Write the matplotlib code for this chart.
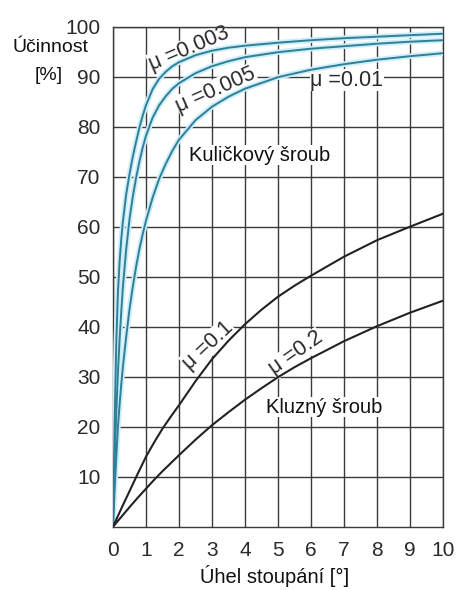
import numpy as np
import matplotlib
matplotlib.use('Agg')
import matplotlib.pyplot as plt

''' matplotlib config
'''
plt.rcParams['font.family'] = ['Liberation Sans', 'DejaVu Sans']

# data (efficiency [%] vs lead angle [deg])
x_ball = [0, 0.05, 0.1, 0.15, 0.2, 0.25, 0.3, 0.4, 0.5, 0.6, 0.7, 0.8, 0.9, 1,
          1.2, 1.4, 1.6, 1.8, 2, 2.5, 3, 3.5, 4, 5, 6, 7, 8, 9, 10]
eta_003 = [0, 21, 37, 47, 53, 57.5, 61, 66.5, 70.5, 74, 77, 79.8, 82.2, 84.3,
           87.5, 89.6, 91, 92.1, 92.9, 94.3, 95.2, 95.8, 96.2, 96.8, 97.3, 97.7, 98.0, 98.3, 98.6]
eta_005 = [0, 13, 23, 31, 37.5, 43, 48, 55.5, 61.5, 66, 69.8, 73, 75.8, 78.2,
           81.8, 84.3, 86.1, 87.6, 88.7, 90.7, 92.1, 93.1, 93.9, 94.9, 95.6, 96.1, 96.6, 97.0, 97.3]
eta_01 = [0, 7.5, 14, 20, 24.5, 28.5, 32, 38, 43.5, 48, 52, 55.5, 58.5, 61.2,
          65.8, 69.6, 72.6, 75.2, 77.4, 81.3, 84, 86, 87.6, 89.9, 91.4, 92.5, 93.4, 94.1, 94.7]

x_slide = [0, 0.25, 0.5, 0.75, 1, 1.25, 1.5, 1.75, 2, 2.5, 3, 3.5, 4, 4.5, 5, 5.5, 6, 7, 8, 9, 10]
eta_1 = [0, 3.6, 7.1, 10.6, 14, 16.9, 19.6, 22, 24.3, 29.1, 33.5, 37.2, 40.5, 43.4,
         46, 48.2, 50.2, 54, 57.3, 60, 62.6]
eta_2 = [0, 1.95, 3.9, 5.8, 7.6, 9.4, 11.1, 12.7, 14.3, 17.4, 20.3, 22.9, 25.4, 27.7,
         29.9, 31.9, 33.7, 37.1, 40.1, 42.8, 45.2]

x_ticks = list(range(0, 11))
y_ticks = list(range(10, 101, 10))

grid_c = '#3a3a3a'
txt_c = '#2a2a2a'
core_c = '#2f7f98'
halo_c = '#cdeef8'

fig = plt.figure(figsize=(4.59, 5.90), dpi=100)
ax = fig.add_axes([113/459, 1-526.7/590, 330/459, 500/590])

for y in (eta_003, eta_005, eta_01):
  ax.plot(x_ball, y, color=halo_c, lw=4.0, solid_capstyle='round', zorder=3)
for y in (eta_003, eta_005, eta_01):
  ax.plot(x_ball, y, color=core_c, lw=1.4, zorder=4)
for y in (eta_1, eta_2):
  ax.plot(x_slide, y, color='#222222', lw=1.5, zorder=4)

ax.set_xlim(0, 10)
ax.set_ylim(0, 100)
ax.set_xticks(x_ticks)
ax.set_yticks(y_ticks)
ax.grid(True, color=grid_c, lw=1.0, zorder=1)
ax.set_axisbelow(True)
for s in ax.spines.values():
  s.set_color(grid_c)
  s.set_linewidth(1.0)
ax.tick_params(length=0, labelsize=15, labelcolor=txt_c)
ax.tick_params(axis='y', pad=9)
ax.tick_params(axis='x', pad=10)

# labels sit on a white patch over the grid, but under the curves
bb = dict(fc='white', ec='none', pad=0.3)
ax.text(2.3, 95.6, 'μ =0.003', rotation=23, fontsize=15.5, color=txt_c,
        ha='center', va='center', bbox=bb, zorder=2.5)
ax.text(3.12, 87.4, 'μ =0.005', rotation=24, fontsize=15.5, color=txt_c,
        ha='center', va='center', bbox=bb, zorder=2.5)
ax.text(7.09, 89.3, 'μ =0.01', rotation=0, fontsize=15.5, color=txt_c,
        ha='center', va='center', bbox=bb, zorder=2.5)
ax.text(4.45, 74.3, 'Kuličkový šroub', fontsize=14.5, color='#111111',
        ha='center', va='center', bbox=bb, zorder=2.5)
ax.text(2.88, 36.3, 'μ =0.1', rotation=43, fontsize=15.5, color=txt_c,
        ha='center', va='center', bbox=bb, zorder=2.5)
ax.text(5.55, 34.7, 'μ =0.2', rotation=35, fontsize=15.5, color=txt_c,
        ha='center', va='center', bbox=bb, zorder=2.5)
ax.text(6.39, 23.9, 'Kluzný šroub', fontsize=14.5, color='#111111',
        ha='center', va='center', bbox=bb, zorder=2.5)

fig.text(50/459, 1-48/590, 'Účinnost', fontsize=14, color='#111111',
         ha='center', va='center')
fig.text(63/459, 1-75/590, '[%]', fontsize=14, color='#111111',
         ha='right', va='center')
fig.text(275/459, 1-576/590, 'Úhel stoupání [°]', fontsize=14.5, color='#111111',
         ha='center', va='center')

fig.savefig('out.png', dpi=100)
